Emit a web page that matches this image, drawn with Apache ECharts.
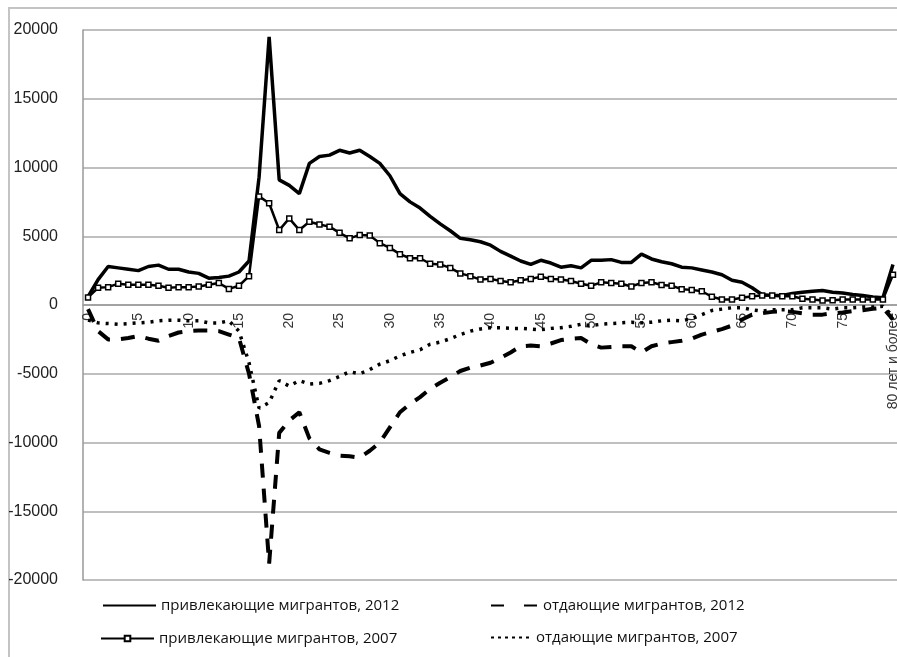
<!DOCTYPE html>
<html>
<head>
<meta charset="utf-8">
<script src="https://cdn.jsdelivr.net/npm/echarts@6/dist/echarts.min.js"></script>
<style>
  html, body { margin: 0; padding: 0; background: #fff; }
  #chart { width: 897px; height: 657px; }
</style>
</head>
<body>
<div id="chart"></div>
<script>
// возраст: 0..79 и последняя группа
const ages = []
for (let a = 0; a < 80; a++) ages.push(String(a))
ages.push('80 лет и более')

const yTicks = [-20000, -15000, -10000, -5000, 0, 5000, 10000, 15000, 20000]

const attract2012 = [600, 1850, 2800, 2700, 2600, 2500, 2800, 2900, 2600, 2600,
  2400, 2300, 1950, 2000, 2100, 2400, 3200, 9300, 19500, 9100,
  8700, 8100, 10300, 10800, 10900, 11250, 11050, 11250, 10800, 10300,
  9400, 8100, 7500, 7050, 6450, 5900, 5400, 4850, 4750, 4600,
  4350, 3900, 3550, 3200, 2950, 3250, 3050, 2750, 2850, 2700,
  3250, 3250, 3300, 3100, 3100, 3700, 3350, 3150, 3000, 2750,
  2700, 2550, 2400, 2200, 1800, 1650, 1250, 750, 700, 700,
  830, 930, 1000, 1050, 930, 870, 760, 690, 590, 520, 2950]

const lose2012 = [-300, -1900, -2500, -2500, -2400, -2250, -2450, -2600, -2250, -2000,
  -1900, -1850, -1850, -1900, -2150, -2400, -5000, -8800, -18800, -9300,
  -8400, -7800, -9700, -10500, -10750, -10950, -11000, -11100, -10600, -10000,
  -8900, -7800, -7200, -6700, -6100, -5650, -5250, -4800, -4550, -4400,
  -4200, -3850, -3450, -3000, -2950, -3000, -2800, -2550, -2450, -2400,
  -2850, -3100, -3050, -3000, -3000, -3450, -3000, -2800, -2700, -2600,
  -2450, -2150, -1950, -1750, -1500, -1050, -700, -600, -500, -450,
  -500, -600, -700, -700, -600, -550, -450, -380, -280, -200, -1050]

const attract2007 = [550, 1250, 1300, 1550, 1480, 1480, 1480, 1400, 1250, 1300,
  1300, 1350, 1480, 1600, 1170, 1400, 2100, 7900, 7400, 5450,
  6300, 5450, 6050, 5850, 5700, 5250, 4850, 5100, 5050, 4500,
  4150, 3700, 3400, 3400, 3000, 2950, 2700, 2300, 2100, 1850,
  1900, 1750, 1650, 1800, 1900, 2050, 1900, 1850, 1750, 1550,
  1400, 1650, 1600, 1550, 1350, 1600, 1650, 1450, 1400, 1150,
  1100, 1000, 600, 400, 400, 520, 640, 690, 690, 640,
  640, 450, 400, 330, 350, 400, 400, 400, 400, 400, 2200]

const lose2007 = [-1100, -1300, -1350, -1400, -1350, -1300, -1250, -1150, -1100, -1100,
  -1150, -1150, -1300, -1300, -1150, -1900, -4200, -7500, -7100, -5500,
  -5900, -5500, -5750, -5700, -5500, -5200, -4850, -5000, -4700, -4300,
  -4050, -3700, -3450, -3250, -2850, -2700, -2450, -2150, -1900, -1750,
  -1650, -1650, -1700, -1700, -1750, -1800, -1700, -1650, -1550, -1400,
  -1500, -1400, -1350, -1300, -1250, -1300, -1250, -1150, -1100, -1150,
  -1000, -700, -400, -300, -200, -200, -350, -450, -350, -350,
  -350, -200, -200, -200, -300, -200, -200, -150, -150, -100, -800]

const names = [
  'привлекающие мигрантов, 2012',
  'отдающие мигрантов, 2012',
  'привлекающие мигрантов, 2007',
  'отдающие мигрантов, 2007'
]

const chart = echarts.init(document.getElementById('chart'))
const legendText = { fontFamily: 'Open Sans', fontSize: 15, color: '#111' }
const noMark = { opacity: 0 }
const gridH = 550

const option = {
  animation: false,
  textStyle: { fontFamily: 'Liberation Sans' },
  graphic: [{
    type: 'rect',
    z: -10,
    shape: { x: 9, y: 8, width: 900, height: 700 },
    style: { fill: 'none', stroke: '#c4c4c4', lineWidth: 2 }
  }],
  grid: { left: 83, top: 30, width: 815, height: gridH, outerBoundsMode: 'none', containLabel: false },
  legend: [
    { data: [names[0]], left: 97, top: 593, itemWidth: 53, itemHeight: 14, textStyle: legendText,
      itemStyle: noMark },
    { data: [names[1]], left: 485, top: 593, itemWidth: 47, itemHeight: 14, textStyle: legendText,
      itemStyle: noMark, lineStyle: { type: [13, 20] } },
    { data: [names[2]], left: 95, top: 626, itemWidth: 53, itemHeight: 7, textStyle: legendText },
    { data: [names[3]], left: 485, top: 625, itemWidth: 40, itemHeight: 14, textStyle: legendText,
      itemStyle: noMark, lineStyle: { type: [3, 4] } }
  ],
  xAxis: {
    type: 'category',
    data: ages,
    boundaryGap: true,
    // ось проходит через ноль (середина шкалы)
    offset: -gridH / 2,
    axisLine: { onZero: false, lineStyle: { color: '#999', width: 1.5 } },
    axisTick: { interval: 0, inside: true, length: 4, lineStyle: { color: '#999' } },
    axisLabel: { interval: 4, rotate: 90, fontSize: 14, color: '#333', margin: 8 },
    splitLine: { show: false }
  },
  yAxis: {
    type: 'value',
    min: yTicks[0],
    max: yTicks[yTicks.length - 1],
    interval: 5000,
    axisLine: { show: true, lineStyle: { color: '#999', width: 1.5 } },
    axisTick: { show: false },
    axisLabel: { fontSize: 16, color: '#222', margin: 25, formatter: v => String(v) },
    splitLine: { lineStyle: { color: '#aaa', width: 1.5 } }
  },
  series: [
    {
      name: names[0], type: 'line', data: attract2012,
      symbol: 'none',
      lineStyle: { color: '#000', width: 3.5 },
      itemStyle: { color: '#000' }
    },
    {
      name: names[1], type: 'line', data: lose2012,
      symbol: 'none',
      lineStyle: { color: '#000', width: 4, type: [14, 11] },
      itemStyle: { color: '#000' }
    },
    {
      name: names[2], type: 'line', data: attract2007,
      symbol: 'rect', symbolSize: 5, showSymbol: true,
      lineStyle: { color: '#000', width: 2.5 },
      itemStyle: { color: '#fff', borderColor: '#000', borderWidth: 1.5 }
    },
    {
      name: names[3], type: 'line', data: lose2007,
      symbol: 'none',
      lineStyle: { color: '#000', width: 3.5, type: [3, 6] },
      itemStyle: { color: '#000' }
    }
  ]
}

chart.setOption(option)
</script>
</body>
</html>
